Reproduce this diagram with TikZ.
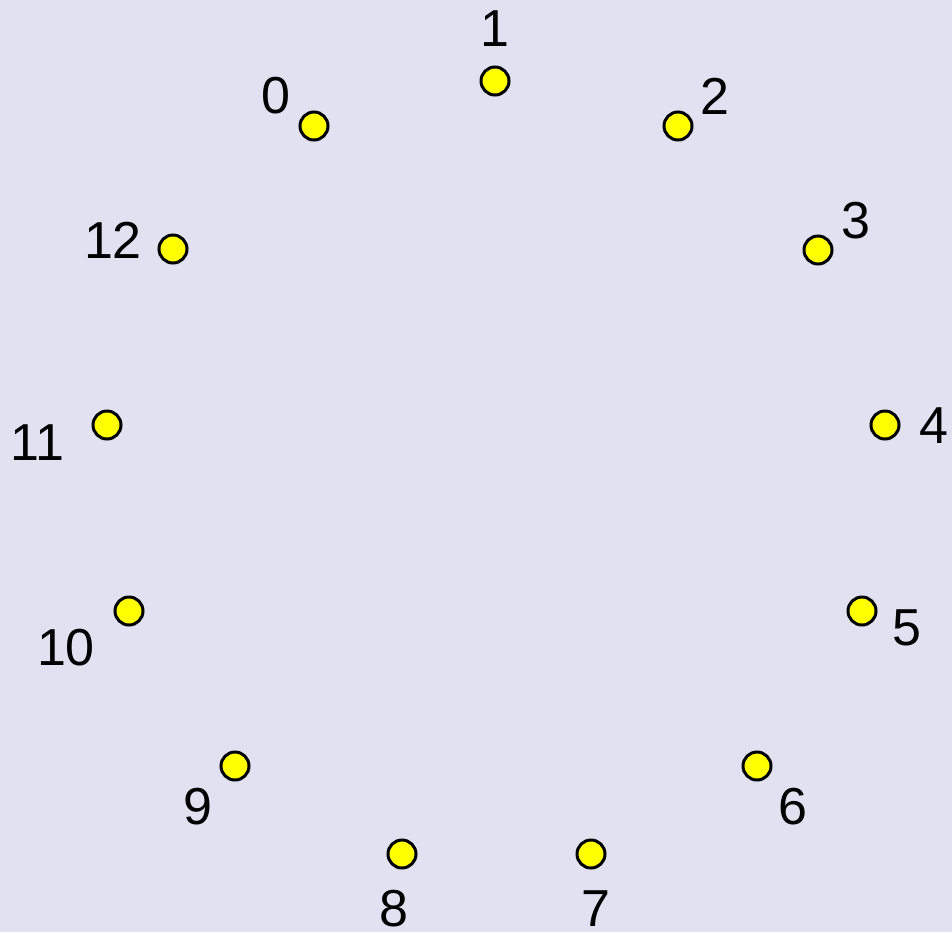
\documentclass[tikz,border=0pt]{standalone}
\usepackage{fontspec}
\setmainfont{Liberation Sans}
\definecolor{bg}{HTML}{E1E1F1}
\definecolor{dotyellow}{HTML}{FFFF00}
\tikzset{
  dot/.style={circle,draw=black,fill=dotyellow,line width=3pt,minimum size=28pt,inner sep=0pt},
  lbl/.style={inner sep=0pt,font=\fontsize{52}{60}\selectfont,text height=37pt,text depth=0pt,anchor=center}
}
\begin{document}
\begin{tikzpicture}[x=1pt,y=-1pt]
\fill[bg] (0,0) rectangle (952,932);
\useasboundingbox (0,0) rectangle (952,932);
\node[dot] (d0) at (314,126) {};
\node[dot] (d1) at (495,81) {};
\node[dot] (d2) at (678,126) {};
\node[dot] (d3) at (818,250) {};
\node[dot] (d4) at (885,425) {};
\node[dot] (d5) at (862,611) {};
\node[dot] (d6) at (757,766) {};
\node[dot] (d7) at (591,854) {};
\node[dot] (d8) at (402,854) {};
\node[dot] (d9) at (235,766) {};
\node[dot] (d10) at (129,611) {};
\node[dot] (d11) at (107,425) {};
\node[dot] (d12) at (173,249) {};
\node[lbl] (l0) at (276,95) {0};
\node[lbl] (l1) at (495,28) {1};
\node[lbl] (l2) at (715,96) {2};
\node[lbl] (l3) at (856,220) {3};
\node[lbl] (l4) at (934,425) {4};
\node[lbl] (l5) at (907,627) {5};
\node[lbl] (l6) at (793,806) {6};
\node[lbl] (l7) at (596,908) {7};
\node[lbl] (l8) at (394,908) {8};
\node[lbl] (l9) at (198,806) {9};
\node[lbl] (l10) at (66,647) {10};
\node[lbl] (l11) at (37,442) {11};
\node[lbl] (l12) at (113,240) {12};
\end{tikzpicture}
\end{document}
